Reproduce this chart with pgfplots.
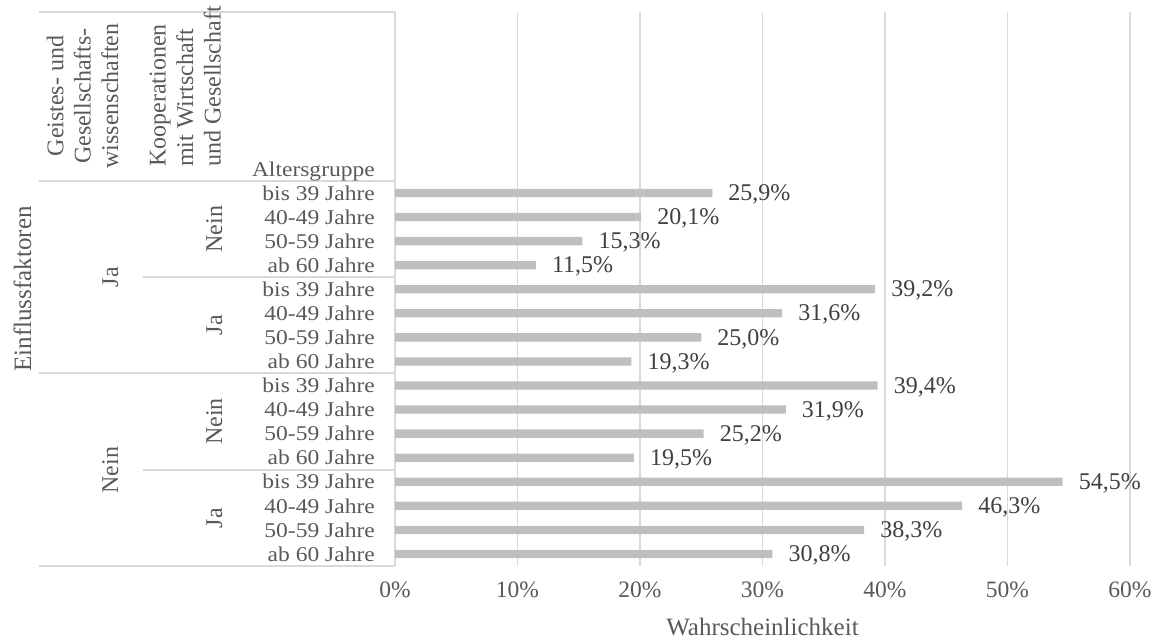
\documentclass[border=0pt]{standalone}
\usepackage{fontspec}
\setmainfont{Liberation Serif}
\newfontfamily\catfont[FakeStretch=1.12]{Liberation Serif}
\usepackage{pgfplots}
\pgfplotsset{compat=1.18}
\usepackage{pgfplotstable}

\definecolor{bargray}{HTML}{BFBFBF}
\definecolor{gridgray}{HTML}{D9D9D9}
\definecolor{labgray}{HTML}{595959}
\definecolor{valgray}{HTML}{404040}

\newcommand{\fsval}{\fontsize{24bp}{28bp}\selectfont}
\newcommand{\fstick}{\fontsize{23.5bp}{27bp}\selectfont}
\newcommand{\fscat}{\catfont\fontsize{21bp}{24bp}\selectfont}
\newcommand{\fstitle}{\fontsize{25bp}{29bp}\selectfont}

% y = row position (15 = top row), x = probability in %
\pgfplotstableread{
y x
15 25.9
14 20.1
13 15.3
12 11.5
11 39.2
10 31.6
9  25.0
8  19.3
7  39.4
6  31.9
5  25.2
4  19.5
3  54.5
2  46.3
1  38.3
0  30.8
}\probs

\begin{document}
\begin{tikzpicture}
\useasboundingbox (0,0) rectangle (1158bp,-641bp);

\begin{axis}[
  at={(395bp,-566bp)}, anchor=south west,
  scale only axis, width=735bp, height=554bp,
  xbar, bar width=8.3bp,
  xmin=0, xmax=60, ymin=-0.5, ymax=22.52,
  axis line style={draw=none},
  xmajorgrids, grid style={gridgray, line width=1.3bp},
  xtick={0,10,...,60},
  xticklabel={\pgfmathprintnumber{\tick}\%},
  ytick={0,...,15},
  yticklabels={ab 60 Jahre,50-59 Jahre,40-49 Jahre,bis 39 Jahre,
               ab 60 Jahre,50-59 Jahre,40-49 Jahre,bis 39 Jahre,
               ab 60 Jahre,50-59 Jahre,40-49 Jahre,bis 39 Jahre,
               ab 60 Jahre,50-59 Jahre,40-49 Jahre,bis 39 Jahre},
  major tick length=0pt, tick style={draw=none},
  /pgf/number format/assume math mode=true,
  xticklabel style={font=\fstick, text=labgray, inner sep=0pt, yshift=-16bp},
  yticklabel style={font=\fscat, text=labgray, inner sep=0pt, xshift=-20bp},
  xlabel={Wahrscheinlichkeit},
  xlabel style={at={(rel axis cs:0.5,0)}, anchor=base, yshift=-69bp,
                font=\fstitle, text=labgray},
  point meta=x,
  nodes near coords={\pgfmathprintnumber[fixed,fixed zerofill,precision=1,use comma]{\pgfplotspointmeta}\%},
  nodes near coords style={anchor=west, inner sep=0pt, xshift=16bp, yshift=-1.5bp, font=\fsval, text=valgray},
  clip=false,
]
\addplot[fill=bargray, draw=none] table[x=x, y=y] {\probs};
\end{axis}

% table lines of the category axis
\begin{scope}[gridgray, line width=1.3bp]
  \draw (39bp,-12bp) -- (395bp,-12bp);
  \draw (39bp,-181bp) -- (395bp,-181bp);
  \draw (39bp,-373bp) -- (395bp,-373bp);
  \draw (39bp,-566bp) -- (395bp,-566bp);
  \draw (143bp,-277bp) -- (395bp,-277bp);
  \draw (143bp,-470bp) -- (395bp,-470bp);
\end{scope}

% headers
\begin{scope}[every node/.style={text=labgray, font=\fsval, inner sep=0pt}]
  \node[rotate=90, anchor=base] at (63.3bp,-96bp) {Geistes- und};
  \node[rotate=90, anchor=base] at (90.7bp,-96bp) {Gesellschafts-};
  \node[rotate=90, anchor=base] at (118.2bp,-96bp) {wissenschaften};
  \node[rotate=90, anchor=base west] at (165.5bp,-167bp) {Kooperationen};
  \node[rotate=90, anchor=base west] at (193bp,-167bp) {mit Wirtschaft};
  \node[rotate=90, anchor=base west] at (220.5bp,-167bp) {und Gesellschaft};
  \node[anchor=base east, font=\fscat] at (375bp,-176.7bp) {Altersgruppe};
  % outer group
  \node[rotate=90, anchor=base] at (118bp,-277bp) {Ja};
  \node[rotate=90, anchor=base] at (118bp,-470bp) {Nein};
  % inner group
  \node[rotate=90, anchor=base] at (222bp,-229bp) {Nein};
  \node[rotate=90, anchor=base] at (222bp,-325bp) {Ja};
  \node[rotate=90, anchor=base] at (222bp,-421.5bp) {Nein};
  \node[rotate=90, anchor=base] at (222bp,-518bp) {Ja};
  % axis title
  \node[rotate=90, anchor=base, font=\fstitle] at (31bp,-289bp) {Einflussfaktoren};
\end{scope}
\end{tikzpicture}
\end{document}
